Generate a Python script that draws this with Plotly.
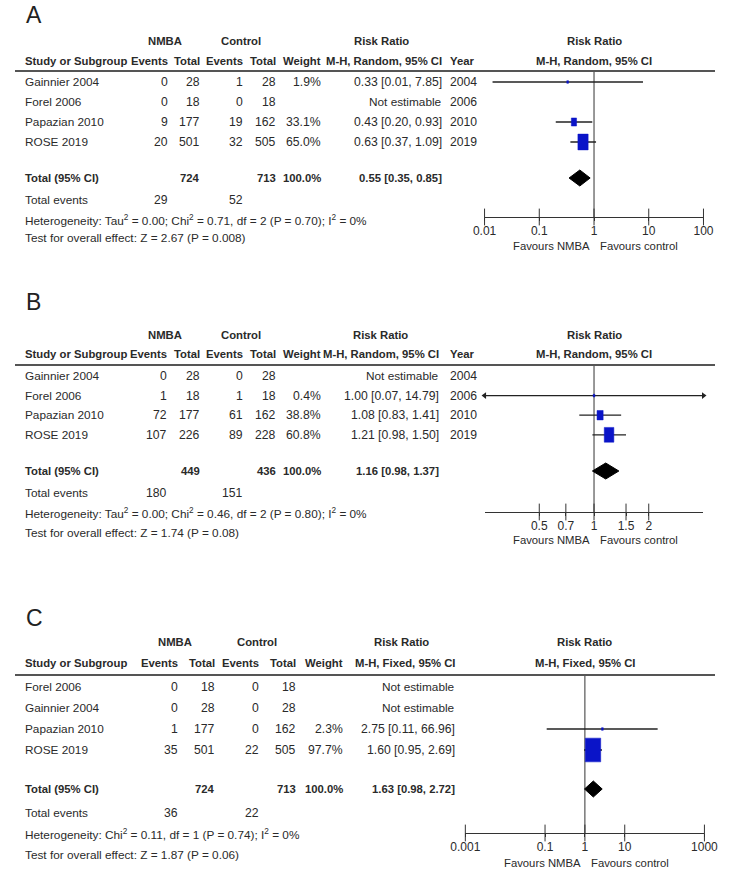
import plotly.graph_objects as go
import math

W, H = 729, 884
FONT = "Liberation Sans, Arial, sans-serif"
TXT = "#2a2a2a"
BLUE = "#0a14c8"
NUM = 12.2    # numeric cells
WORD = 11.8   # words / sentences
BOLD = 11.3   # bold text size

# ---------------- data ----------------
# Panel A
studies_A = ["Gainnier 2004", "Forel 2006", "Papazian 2010", "ROSE 2019"]
nmba_ev_A = [0, 0, 9, 20]
nmba_tot_A = [28, 18, 177, 501]
ctl_ev_A = [1, 0, 19, 32]
ctl_tot_A = [28, 18, 162, 505]
weight_A = [1.9, None, 33.1, 65.0]
rr_A = [0.33, None, 0.43, 0.63]
lo_A = [0.014, None, 0.20, 0.37]
hi_A = [7.85, None, 0.93, 1.09]
year_A = [2004, 2006, 2010, 2019]
total_A = {"n1": 724, "n2": 713, "rr": 0.55, "lo": 0.35, "hi": 0.85, "e1": 29, "e2": 52}
het_A = "Heterogeneity: Tau<sup>2</sup> = 0.00; Chi<sup>2</sup> = 0.71, df = 2 (P = 0.70); I<sup>2</sup> = 0%"
test_A = "Test for overall effect: Z = 2.67 (P = 0.008)"
ticks_A = [0.01, 0.1, 1, 10, 100]
ticktext_A = ["0.01", "0.1", "1", "10", "100"]

# Panel B
studies_B = ["Gainnier 2004", "Forel 2006", "Papazian 2010", "ROSE 2019"]
nmba_ev_B = [0, 1, 72, 107]
nmba_tot_B = [28, 18, 177, 226]
ctl_ev_B = [0, 1, 61, 89]
ctl_tot_B = [28, 18, 162, 228]
weight_B = [None, 0.4, 38.8, 60.8]
rr_B = [None, 1.00, 1.08, 1.21]
lo_B = [None, 0.07, 0.83, 0.98]
hi_B = [None, 14.79, 1.41, 1.50]
year_B = [2004, 2006, 2010, 2019]
total_B = {"n1": 449, "n2": 436, "rr": 1.16, "lo": 0.98, "hi": 1.37, "e1": 180, "e2": 151}
het_B = "Heterogeneity: Tau<sup>2</sup> = 0.00; Chi<sup>2</sup> = 0.46, df = 2 (P = 0.80); I<sup>2</sup> = 0%"
test_B = "Test for overall effect: Z = 1.74 (P = 0.08)"
ticks_B = [0.5, 0.7, 1, 1.5, 2]
ticktext_B = ["0.5", "0.7", "1", "1.5", "2"]

# Panel C
studies_C = ["Forel 2006", "Gainnier 2004", "Papazian 2010", "ROSE 2019"]
nmba_ev_C = [0, 0, 1, 35]
nmba_tot_C = [18, 28, 177, 501]
ctl_ev_C = [0, 0, 0, 22]
ctl_tot_C = [18, 28, 162, 505]
weight_C = [None, None, 2.3, 97.7]
rr_C = [None, None, 2.75, 1.60]
lo_C = [None, None, 0.11, 0.95]
hi_C = [None, None, 66.96, 2.69]
total_C = {"n1": 724, "n2": 713, "rr": 1.63, "lo": 0.98, "hi": 2.72, "e1": 36, "e2": 22}
het_C = "Heterogeneity: Chi<sup>2</sup> = 0.11, df = 1 (P = 0.74); I<sup>2</sup> = 0%"
test_C = "Test for overall effect: Z = 1.87 (P = 0.06)"
ticks_C = [0.001, 0.1, 1, 10, 1000]
ticktext_C = ["0.001", "0.1", "1", "10", "1000"]

# ---------------- layout geometry (pixels) ----------------
panels = [
    dict(key="A", ax="", studies=studies_A, e1=nmba_ev_A, t1=nmba_tot_A, e2=ctl_ev_A, t2=ctl_tot_A,
         w=weight_A, rr=rr_A, lo=lo_A, hi=hi_A, year=year_A, tot=total_A, het=het_A, test=test_A,
         tv=ticks_A, tt=ticktext_A, method="M-H, Random, 95% CI",
         label_y=15, h1=41, h2=61, line=71, row0=82, step=20, total_y=178, ev_y=200, het_y=220, test_y=238,
         axis_y=217, fav_y=246, xl=489, xr=717, xrange=(0.01, 100),
         cols=dict(e1=160, t1=194, e2=238, t2=273, w=320, rr=446, year=452, nmba=156, ctl=235, rrh=382)),
    dict(key="B", ax="2", studies=studies_B, e1=nmba_ev_B, t1=nmba_tot_B, e2=ctl_ev_B, t2=ctl_tot_B,
         w=weight_B, rr=rr_B, lo=lo_B, hi=hi_B, year=year_B, tot=total_B, het=het_B, test=test_B,
         tv=ticks_B, tt=ticktext_B, method="M-H, Random, 95% CI",
         label_y=302, h1=335, h2=354, line=365, row0=376, step=19.6, total_y=471, ev_y=493, het_y=513, test_y=533,
         axis_y=512, fav_y=540, xl=489, xr=717, xrange=(0.25, 4),
         cols=dict(e1=159, t1=194, e2=238, t2=273, w=320, rr=443, year=452, nmba=156, ctl=235, rrh=381)),
    dict(key="C", ax="3", studies=studies_C, e1=nmba_ev_C, t1=nmba_tot_C, e2=ctl_ev_C, t2=ctl_tot_C,
         w=weight_C, rr=rr_C, lo=lo_C, hi=hi_C, year=None, tot=total_C, het=het_C, test=test_C,
         tv=ticks_C, tt=ticktext_C, method="M-H, Fixed, 95% CI",
         label_y=618, h1=642, h2=663, line=675, row0=687, step=21, total_y=789, ev_y=813, het_y=834, test_y=855,
         axis_y=833, fav_y=863, xl=469, xr=718, xrange=(0.001, 1000),
         cols=dict(e1=171, t1=209, e2=255, t2=294, w=343, rr=459, year=None, nmba=167, ctl=252, rrh=402)),
]

BOX_PX_PER_PCT = 0.164   # box width in px per % weight
BOX_ASPECT = 1.48        # box height / width

fig = go.Figure()
annotations = []
shapes = []


def px(x):
    return x / W


def py(y):
    return 1 - y / H


def text(x, y, s, anchor="right", bold=False, size=NUM, color=TXT):
    if bold:
        s = "<b>" + s + "</b>"
    annotations.append(dict(x=px(x), y=py(y), xref="paper", yref="paper", text=s, showarrow=False,
                            xanchor=anchor, yanchor="middle", borderpad=0,
                            font=dict(family=FONT, size=size, color=color)))


def fmt_rr(r, l, h):
    if r is None:
        return "Not estimable"
    return f"{r:.2f} [{l:.2f}, {h:.2f}]"


layout_axes = {}
for p in panels:
    c = p["cols"]
    ax = p["ax"]
    xname = "x" + ax
    yname = "y" + ax
    step = p["step"]
    row0 = p["row0"]
    lx0, lx1 = math.log10(p["xrange"][0]), math.log10(p["xrange"][1])
    ppd = (p["xr"] - p["xl"]) / (lx1 - lx0)          # pixels per decade
    one_px = p["xl"] + (0 - lx0) * ppd

    # panel label
    text(10, p["label_y"], p["key"], anchor="left", size=23, color="#222222")

    # headers
    text(c["nmba"], p["h1"], "NMBA", anchor="center", bold=True, size=BOLD)
    text(c["ctl"], p["h1"], "Control", anchor="center", bold=True, size=BOLD)
    text(c["rrh"], p["h1"], "Risk Ratio", anchor="center", bold=True, size=BOLD)
    text(9, p["h2"], "Study or Subgroup", anchor="left", bold=True, size=BOLD)
    text(c["e1"], p["h2"], "Events", bold=True, size=BOLD)
    text(c["t1"], p["h2"], "Total", bold=True, size=BOLD)
    text(c["e2"], p["h2"], "Events", bold=True, size=BOLD)
    text(c["t2"], p["h2"], "Total", bold=True, size=BOLD)
    text(c["w"], p["h2"], "Weight", bold=True, size=BOLD)
    text(c["rr"], p["h2"], p["method"], bold=True, size=BOLD)
    if c["year"] is not None:
        text(c["year"], p["h2"], "Year", anchor="left", bold=True, size=BOLD)
    text(one_px, p["h1"], "Risk Ratio", anchor="center", bold=True, size=BOLD)
    text(one_px, p["h2"], p["method"], anchor="center", bold=True, size=BOLD)

    # header rule
    shapes.append(dict(type="line", xref="paper", yref="paper", x0=0, x1=1, y0=py(p["line"]), y1=py(p["line"]),
                       line=dict(color="#555555", width=2)))

    # rows
    for i, s in enumerate(p["studies"]):
        yy = row0 + i * step
        text(9, yy, s, anchor="left", size=WORD)
        text(c["e1"], yy, str(p["e1"][i]))
        text(c["t1"], yy, str(p["t1"][i]))
        text(c["e2"], yy, str(p["e2"][i]))
        text(c["t2"], yy, str(p["t2"][i]))
        if p["w"][i] is not None:
            text(c["w"], yy, f"{p['w'][i]:.1f}%")
        text(c["rr"], yy, fmt_rr(p["rr"][i], p["lo"][i], p["hi"][i]),
             size=NUM if p["rr"][i] is not None else WORD)
        if p["year"] is not None:
            text(c["year"], yy, str(p["year"][i]), anchor="left")

    t = p["tot"]
    text(9, p["total_y"], "Total (95% CI)", anchor="left", bold=True, size=BOLD)
    text(c["t1"], p["total_y"], str(t["n1"]), bold=True, size=BOLD)
    text(c["t2"], p["total_y"], str(t["n2"]), bold=True, size=BOLD)
    text(c["w"], p["total_y"], "100.0%", bold=True, size=BOLD)
    text(c["rr"], p["total_y"], fmt_rr(t["rr"], t["lo"], t["hi"]), bold=True, size=BOLD)
    text(9, p["ev_y"], "Total events", anchor="left", size=WORD)
    text(c["e1"], p["ev_y"], str(t["e1"]))
    text(c["e2"], p["ev_y"], str(t["e2"]))
    text(9, p["het_y"], p["het"], anchor="left", size=WORD)
    text(9, p["test_y"], p["test"], anchor="left", size=WORD)

    # favours labels
    text(one_px - 3, p["fav_y"], "Favours NMBA", anchor="right", size=11.3)
    text(one_px + 5, p["fav_y"], "Favours control", anchor="left", size=11.3)

    # axes
    ytop = (p["line"] - row0) / step
    ybot = (p["axis_y"] - row0) / step
    layout_axes["xaxis" + ax] = dict(
        domain=[px(p["xl"]), px(p["xr"])], type="log", range=[lx0, lx1], anchor=yname,
        showline=True, linecolor="#333333", linewidth=1, showgrid=False, zeroline=False,
        tickvals=p["tv"], ticktext=p["tt"], ticks="outside", ticklen=3, tickcolor="#333333",
        tickfont=dict(family=FONT, size=12, color=TXT), fixedrange=True)
    layout_axes["yaxis" + ax] = dict(
        domain=[py(p["axis_y"]), py(p["line"])], range=[ybot, ytop], visible=False, anchor=xname,
        fixedrange=True)

    # tick marks crossing the axis
    fig.add_trace(go.Scatter(x=p["tv"], y=[ybot] * len(p["tv"]), xaxis=xname, yaxis=yname, mode="markers",
                             marker=dict(symbol="line-ns", size=12, line=dict(color="#333333", width=1)),
                             cliponaxis=False, hoverinfo="skip", showlegend=False))
    # line of no effect
    fig.add_trace(go.Scatter(x=[1, 1], y=[ytop, ybot], xaxis=xname, yaxis=yname, mode="lines",
                             line=dict(color="#333333", width=1), hoverinfo="skip", showlegend=False))

    # studies
    for i in range(len(p["studies"])):
        if p["rr"][i] is None:
            continue
        yy = i
        lo = max(p["lo"][i], p["xrange"][0])
        hi = min(p["hi"][i], p["xrange"][1])
        fig.add_trace(go.Scatter(x=[lo, hi], y=[yy, yy], xaxis=xname, yaxis=yname, mode="lines",
                                 line=dict(color="#222222", width=1.3), hoverinfo="skip", showlegend=False))
        if p["lo"][i] < p["xrange"][0]:
            fig.add_trace(go.Scatter(x=[lo], y=[yy], xaxis=xname, yaxis=yname, mode="markers",
                                     marker=dict(symbol="triangle-left", size=6, color="#222222"),
                                     cliponaxis=False, hoverinfo="skip", showlegend=False))
        if p["hi"][i] > p["xrange"][1]:
            fig.add_trace(go.Scatter(x=[hi], y=[yy], xaxis=xname, yaxis=yname, mode="markers",
                                     marker=dict(symbol="triangle-right", size=6, color="#222222"),
                                     cliponaxis=False, hoverinfo="skip", showlegend=False))
        # weight box (size grows with weight)
        wpx = max(1.8, BOX_PX_PER_PCT * p["w"][i])
        hpx = BOX_ASPECT * wpx
        fx = 10 ** ((wpx / 2) / ppd)
        dy = (hpx / 2) / step
        r = p["rr"][i]
        fig.add_trace(go.Scatter(x=[r / fx, r * fx, r * fx, r / fx, r / fx],
                                 y=[yy - dy, yy - dy, yy + dy, yy + dy, yy - dy],
                                 xaxis=xname, yaxis=yname, mode="lines", fill="toself",
                                 fillcolor=BLUE, line=dict(color=BLUE, width=0.5),
                                 hoverinfo="skip", showlegend=False))

    # total diamond
    ty = (p["total_y"] - row0) / step
    d = 8 / step
    fig.add_trace(go.Scatter(x=[t["lo"], t["rr"], t["hi"], t["rr"], t["lo"]],
                             y=[ty, ty - d, ty, ty + d, ty], xaxis=xname, yaxis=yname, mode="lines",
                             fill="toself", fillcolor="black", line=dict(color="black", width=1),
                             hoverinfo="skip", showlegend=False))

fig.update_layout(
    width=W, height=H, margin=dict(l=0, r=0, t=0, b=0),
    paper_bgcolor="white", plot_bgcolor="white", showlegend=False,
    annotations=annotations, shapes=shapes, **layout_axes)

fig.write_html("out.html", config={"displayModeBar": False},
               post_script="document.body.style.margin='0';document.body.style.overflow='hidden';")
